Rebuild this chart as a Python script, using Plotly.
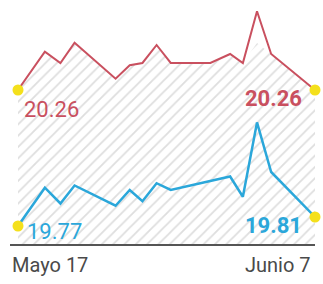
import numpy as np
import plotly.graph_objects as go

# Data (day offsets from Mayo 17)
days = [0, 1.9, 3.0, 4.0, 6.9, 7.9, 8.8, 9.8, 10.8, 13.6, 15.0, 15.9, 16.9, 17.9, 21]
red_values = [20.26, 20.43, 20.38, 20.47, 20.31, 20.37, 20.38, 20.46, 20.38, 20.38, 20.42, 20.38, 20.61, 20.42, 20.26]
blue_values = [19.77, 19.94, 19.87, 19.95, 19.86, 19.93, 19.88, 19.96, 19.93, 19.97, 19.99, 19.90, 20.23, 20.01, 19.81]
tick_labels = ["Mayo 17", "Junio 7"]
red_labels = ["20.26", "20.26"]
blue_labels = ["19.77", "19.81"]

RED = "#c9505f"
BLUE = "#2ba7da"
YELLOW = "#f4e01c"
hatch_cap = 20.469

fig = go.Figure()

# hatched area below red line (clipped at top)
fig.add_trace(go.Scatter(
    x=days, y=list(np.minimum(red_values, hatch_cap)), mode="lines",
    line=dict(width=0), fill="tozeroy", fillcolor="rgba(255,255,255,0)",
    fillpattern=dict(shape="/", size=8, solidity=0.22, fgcolor="#bdbdbd", bgcolor="rgba(255,255,255,0)"),
    hoverinfo="skip", showlegend=False, yaxis="y"))

fig.add_trace(go.Scatter(x=days, y=red_values, mode="lines",
                         line=dict(color=RED, width=2), showlegend=False, yaxis="y"))
fig.add_trace(go.Scatter(x=days, y=blue_values, mode="lines",
                         line=dict(color=BLUE, width=2.5), showlegend=False, yaxis="y2"))

fig.add_trace(go.Scatter(x=[days[0], days[-1]], y=[red_values[0], red_values[-1]], mode="markers",
                         marker=dict(color=YELLOW, size=11), cliponaxis=False, showlegend=False, yaxis="y"))
fig.add_trace(go.Scatter(x=[days[0], days[-1]], y=[blue_values[0], blue_values[-1]], mode="markers",
                         marker=dict(color=YELLOW, size=11), cliponaxis=False, showlegend=False, yaxis="y2"))

H_PLOT = 245.0
def py(p):
    return (H_PLOT - p) / H_PLOT

FONT = "Roboto"
ann = []
ann.append(dict(text=red_labels[0], x=0.28, y=py(109), xref="x", yref="paper", xanchor="left", yanchor="middle",
                showarrow=False, font=dict(family=FONT, size=22, color=RED)))
ann.append(dict(text="<b>" + red_labels[1] + "</b>", x=20.2, y=py(98), xref="x", yref="paper", xanchor="right",
                yanchor="middle", showarrow=False, font=dict(family=FONT, size=22, color=RED)))
ann.append(dict(text=blue_labels[0], x=0.5, y=py(231), xref="x", yref="paper", xanchor="left", yanchor="middle",
                showarrow=False, font=dict(family=FONT, size=22, color=BLUE)))
ann.append(dict(text="<b>" + blue_labels[1] + "</b>", x=20.2, y=py(225), xref="x", yref="paper", xanchor="right",
                yanchor="middle", showarrow=False, font=dict(family=FONT, size=22, color=BLUE)))
ann.append(dict(text=tick_labels[0], x=-8 / 297, y=py(265), xref="paper", yref="paper", xanchor="left",
                yanchor="middle", showarrow=False, font=dict(family=FONT, size=20, color="#4a4a4a")))
ann.append(dict(text=tick_labels[1], x=(313 - 18) / 297, y=py(265), xref="paper", yref="paper", xanchor="right",
                yanchor="middle", showarrow=False, font=dict(family=FONT, size=20, color="#4a4a4a")))

fig.update_layout(
    width=323, height=284,
    margin=dict(l=18, r=8, t=0, b=39),
    paper_bgcolor="white", plot_bgcolor="white",
    xaxis=dict(range=[0, 21], visible=False, fixedrange=True),
    yaxis=dict(range=[19.571, 20.66], visible=False),
    yaxis2=dict(range=[19.6856, 20.774], visible=False, overlaying="y"),
    annotations=ann,
    shapes=[dict(type="line", xref="paper", yref="paper", x0=-8 / 297, x1=1, y0=0, y1=0,
                 line=dict(color="#555555", width=2))],
)

fig.write_html("out.html", config={"displayModeBar": False},
               post_script="document.body.style.margin='0';document.body.style.overflow='hidden';")
